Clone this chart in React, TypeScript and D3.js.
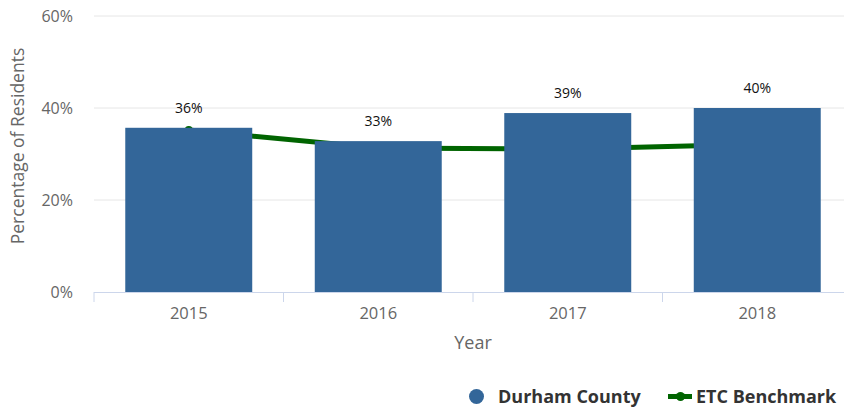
import React from "react";
import * as d3 from "d3";

const years = ["2015", "2016", "2017", "2018"];
const durham = [35.7, 32.8, 38.9, 40.0];
const durhamLabels = ["36%", "33%", "39%", "40%"];
const benchmark = [35.2, 31.3, 31.1, 32.1];
const yTicks = [0, 20, 40, 60];

const W = 844;
const H = 408;
const left = 94;
const right = 852;
const top = 16;
const bottom = 292;

export default function App() {
  const x = d3.scaleBand<string>().domain(years).range([left, right]).paddingInner(0).paddingOuter(0);
  const y = d3.scaleLinear().domain([0, 60]).range([bottom, top]);
  const bw = x.bandwidth() * 0.67;
  const cx = (yr: string) => (x(yr) as number) + x.bandwidth() / 2;
  const line = d3
    .line<number>()
    .x((_, i) => cx(years[i]))
    .y((d) => y(d));
  const font = "'Open Sans', sans-serif";
  const boundaries = years.map((yr) => x(yr) as number).concat([right]);
  return (
    <svg width={W} height={H} style={{ position: "absolute", left: 0, top: 0, display: "block" }}>
      <rect width={W} height={H} fill="#fff" />
      {yTicks.filter((t) => t > 0).map((t) => (
        <line key={t} x1={left} x2={right} y1={y(t)} y2={y(t)} stroke="#e6e6e6" strokeWidth={1} />
      ))}
      {yTicks.map((t) => (
        <text key={t} x={73} y={y(t) + 6} textAnchor="end" fontFamily={font} fontSize={16} fill="#666">
          {t}%
        </text>
      ))}
      <text
        transform={`translate(24,146) rotate(-90)`}
        textAnchor="middle"
        fontFamily={font}
        fontSize={17.5}
        fill="#666"
      >
        Percentage of Residents
      </text>
      <path d={line(benchmark) || ""} fill="none" stroke="#006400" strokeWidth={5} />
      {benchmark.map((v, i) => (
        <circle key={i} cx={cx(years[i])} cy={y(v)} r={4} fill="#006400" />
      ))}
      {durham.map((v, i) => (
        <rect
          key={i}
          x={cx(years[i]) - bw / 2}
          y={y(v)}
          width={bw}
          height={bottom - y(v)}
          fill="#336699"
        />
      ))}
      {durham.map((v, i) => (
        <text
          key={i}
          x={cx(years[i])}
          y={y(v) - 15}
          textAnchor="middle"
          fontFamily={font}
          fontSize={14}
          fill="#111"
        >
          {durhamLabels[i]}
        </text>
      ))}
      <line x1={left} x2={right} y1={bottom + 0.5} y2={bottom + 0.5} stroke="#ccd6eb" strokeWidth={1} />
      {boundaries.map((b, i) => (
        <line key={i} x1={b} x2={b} y1={bottom} y2={bottom + 10} stroke="#ccd6eb" strokeWidth={1} />
      ))}
      {years.map((yr) => (
        <text key={yr} x={cx(yr)} y={319} textAnchor="middle" fontFamily={font} fontSize={16.5} fill="#666">
          {yr}
        </text>
      ))}
      <text x={473} y={349} textAnchor="middle" fontFamily={font} fontSize={18} fill="#666">
        Year
      </text>
      <circle cx={476.5} cy={396.5} r={7.5} fill="#336699" />
      <text x={498} y={403} fontFamily={font} fontSize={18} fontWeight="bold" fill="#333">
        Durham County
      </text>
      <line x1={668} x2={692} y1={396.5} y2={396.5} stroke="#006400" strokeWidth={5} />
      <circle cx={680.5} cy={396.5} r={4.5} fill="#006400" />
      <text x={696} y={403} fontFamily={font} fontSize={18} fontWeight="bold" fill="#333">
        ETC Benchmark
      </text>
    </svg>
  );
}
